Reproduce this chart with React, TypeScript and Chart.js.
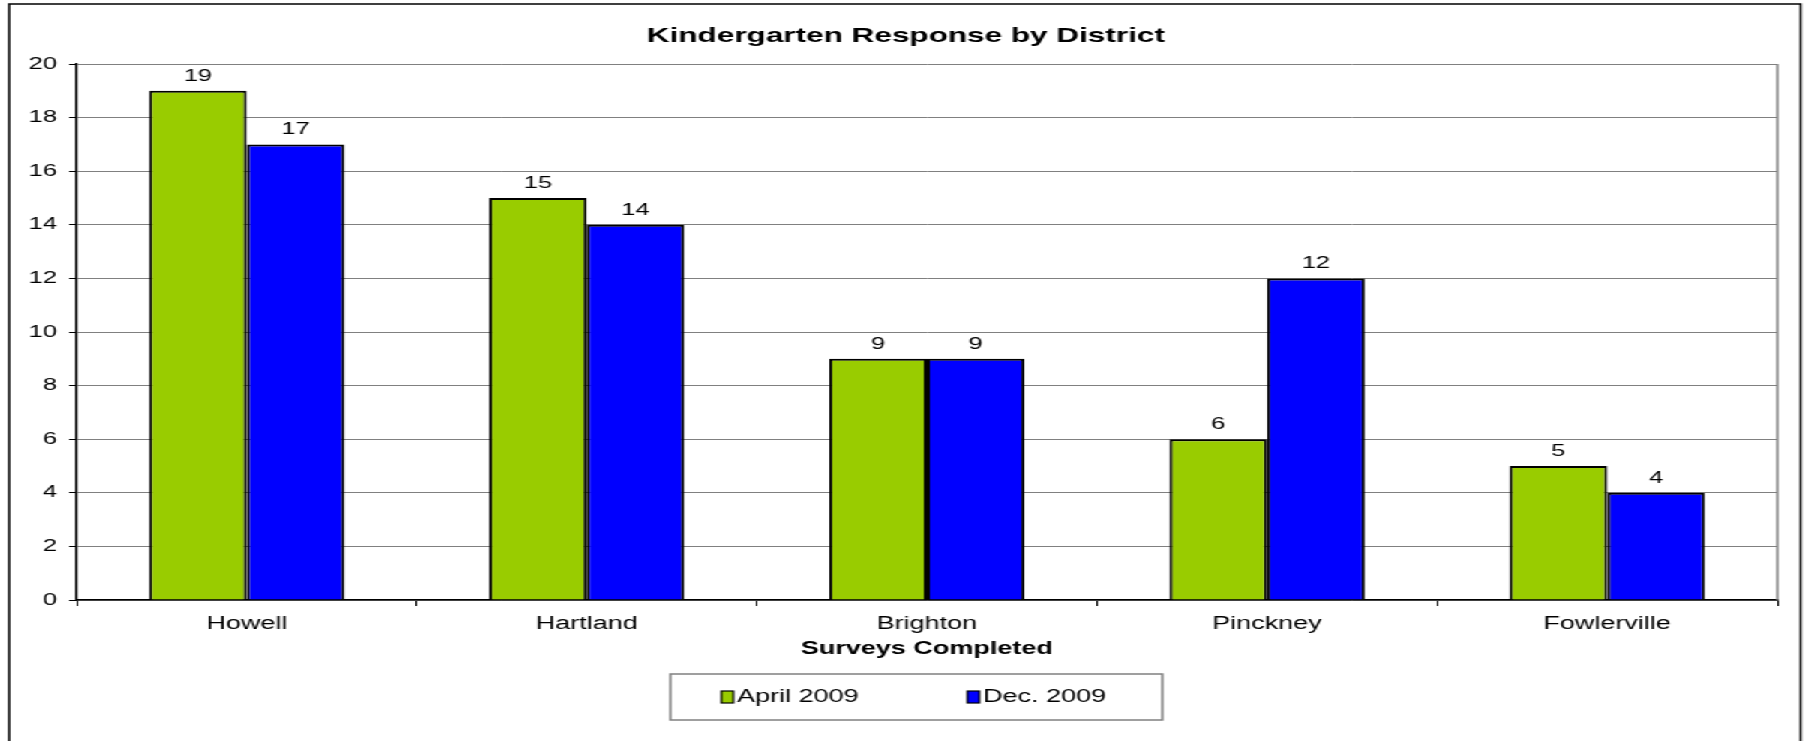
import React, { useEffect, useRef } from "react";
import { Chart, registerables } from "chart.js";

Chart.register(...registerables);

// ---- data ----
const TITLE = "Kindergarten Response by District";
const X_TITLE = "Surveys Completed";
const districts = ["Howell", "Hartland", "Brighton", "Pinckney", "Fowlerville"];
const april2009 = [19, 15, 9, 6, 5];
const dec2009 = [17, 14, 9, 12, 4];
const seriesLabels = ["April 2009", "Dec. 2009"];
const seriesColors = ["#99CC00", "#0000FF"];
const yMin = 0;
const yMax = 20;
const yStep = 2;

// ---- layout (the original picture is stretched horizontally) ----
const SX = 1.5;
const W = Math.round(1806 / SX);
const H = 741;
const FONT = "'Liberation Sans', Arial, Helvetica, sans-serif";

const decorPlugin = {
  id: "decor",
  beforeDraw(chart: any) {
    const ctx = chart.ctx;
    ctx.save();
    ctx.fillStyle = "#ffffff";
    ctx.fillRect(0, 0, chart.width, chart.height);
    ctx.restore();
  },
  afterDraw(chart: any) {
    const { ctx, chartArea } = chart;
    ctx.save();
    // outer chart border
    ctx.strokeStyle = "#000";
    ctx.lineWidth = 1.5;
    ctx.beginPath();
    ctx.moveTo(6, H + 5);
    ctx.lineTo(6, 4);
    ctx.lineTo(1200.5, 4);
    ctx.lineTo(1200.5, H + 5);
    ctx.stroke();

    // plot area right border
    ctx.strokeStyle = "#808080";
    ctx.lineWidth = 1.5;
    ctx.beginPath();
    ctx.moveTo(chartArea.right, chartArea.top);
    ctx.lineTo(chartArea.right, chartArea.bottom);
    ctx.stroke();

    // title
    ctx.fillStyle = "#000";
    ctx.textAlign = "center";
    ctx.textBaseline = "middle";
    ctx.font = `bold 21px ${FONT}`;
    ctx.fillText(TITLE, 604, 36);

    // x-axis title
    ctx.font = `bold 18px ${FONT}`;
    ctx.fillText(X_TITLE, (chartArea.left + chartArea.right) / 2, 649);

    // data labels
    ctx.font = `17px ${FONT}`;
    ctx.textBaseline = "alphabetic";
    chart.data.datasets.forEach((ds: any, i: number) => {
      const meta = chart.getDatasetMeta(i);
      meta.data.forEach((bar: any, j: number) => {
        ctx.fillText(String(ds.data[j]), bar.x, bar.y - 10);
      });
    });

    // legend
    const lx = 447, ly = 674, lw = 328, lh = 46;
    ctx.strokeStyle = "#808080";
    ctx.lineWidth = 1.5;
    ctx.strokeRect(lx, ly, lw, lh);
    const itemX = [lx + 34, lx + 198];
    const cy = ly + lh / 2;
    ctx.font = `18px ${FONT}`;
    ctx.textAlign = "left";
    ctx.textBaseline = "middle";
    chart.data.datasets.forEach((ds: any, i: number) => {
      const mx = itemX[i];
      ctx.fillStyle = ds.backgroundColor;
      ctx.fillRect(mx, cy - 6, 8, 12);
      ctx.strokeStyle = "#000";
      ctx.lineWidth = 1.2;
      ctx.strokeRect(mx, cy - 6, 8, 12);
      ctx.fillStyle = "#000";
      ctx.fillText(ds.label, mx + 10.5, cy + 0.5);
    });
    ctx.restore();
  },
};

export default function App() {
  const canvasRef = useRef<HTMLCanvasElement | null>(null);

  useEffect(() => {
    const canvas = canvasRef.current;
    if (!canvas) return;
    const chart = new Chart(canvas, {
      type: "bar",
      data: {
        labels: districts,
        datasets: [
          {
            label: seriesLabels[0],
            data: april2009,
            backgroundColor: seriesColors[0],
            borderColor: "#000",
            borderWidth: 2,
            categoryPercentage: 0.574,
            barPercentage: 1,
          },
          {
            label: seriesLabels[1],
            data: dec2009,
            backgroundColor: seriesColors[1],
            borderColor: "#000",
            borderWidth: 2,
            categoryPercentage: 0.574,
            barPercentage: 1,
          },
        ],
      },
      options: {
        responsive: false,
        animation: false,
        devicePixelRatio: 1,
        layout: { padding: { left: 0, top: 64, right: W - 1185, bottom: 101 } },
        plugins: {
          legend: { display: false },
          title: { display: false },
          tooltip: { enabled: false },
        },
        scales: {
          x: {
            grid: {
              display: true,
              drawOnChartArea: false,
              drawTicks: true,
              tickLength: 6,
              tickColor: "#000",
              offset: true,
            },
            border: { display: true, color: "#000", width: 1.5 },
            ticks: {
              color: "#000",
              font: { family: FONT, size: 18 },
              padding: 7,
              maxRotation: 0,
              autoSkip: false,
            },
            afterFit(scale: any) {
              scale.height = 40;
            },
          },
          y: {
            min: yMin,
            max: yMax,
            ticks: {
              stepSize: yStep,
              color: "#000",
              font: { family: FONT, size: 17 },
              padding: 8,
            },
            grid: {
              color: "#808080",
              lineWidth: 1,
              tickColor: "#000",
              tickLength: 5,
            },
            border: { color: "#000", width: 1.5 },
            afterFit(scale: any) {
              scale.width = 51;
            },
          },
        },
      },
      plugins: [decorPlugin],
    } as any);
    return () => chart.destroy();
  }, []);

  return (
    <div
      style={{
        position: "fixed",
        left: 0,
        top: 0,
        width: W,
        height: H,
        transform: `scaleX(${SX})`,
        transformOrigin: "0 0",
        background: "#fff",
      }}
    >
      <canvas
        ref={canvasRef}
        width={W}
        height={H}
        style={{ width: `${W}px`, height: `${H}px`, display: "block" }}
      />
    </div>
  );
}
